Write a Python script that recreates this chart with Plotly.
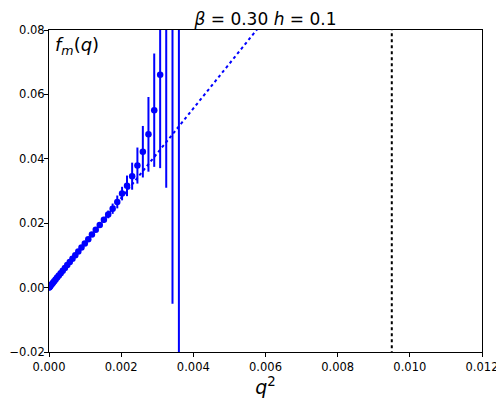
import plotly.graph_objects as go

# measured points (q^2, f_m(q), error)
q2 = [0.00000225, 0.000009, 0.00002025, 0.000036, 0.00005625, 0.000081, 0.00011025,
      0.000144, 0.00018225, 0.000225, 0.00027225, 0.000324, 0.00038025, 0.000441,
      0.00050625, 0.000576, 0.00065025, 0.000729, 0.00081225, 0.0009, 0.00099225,
      0.001089, 0.00119025, 0.001296, 0.00140625, 0.001521, 0.00164025, 0.001764,
      0.00189225, 0.002025, 0.00216225, 0.002304, 0.00245025, 0.002601, 0.00275625,
      0.002916, 0.00308025, 0.003249, 0.00342225, 0.0036]
fm = [0.00003, 0.00012, 0.00028, 0.0005, 0.00078, 0.00112, 0.00152, 0.00199, 0.00252,
      0.00311, 0.00376, 0.00447, 0.00525, 0.00609, 0.00699, 0.00795, 0.00898, 0.01007,
      0.01122, 0.01243, 0.01371, 0.01505, 0.01646, 0.01793, 0.01945, 0.02105, 0.02272,
      0.0245, 0.0266, 0.0292, 0.0316, 0.0346, 0.0379, 0.0422, 0.0476, 0.0551, 0.0661,
      0.085, 0.090, 0.110]
fm_err = [0.00001, 0.00001, 0.00001, 0.00002, 0.00002, 0.00003, 0.00003, 0.00004, 0.00005,
          0.00006, 0.00007, 0.00008, 0.0001, 0.00011, 0.00013, 0.00015, 0.00017, 0.0002,
          0.00023, 0.0003, 0.00035, 0.0004, 0.0005, 0.0006, 0.0007, 0.0009, 0.0012,
          0.0016, 0.002, 0.0021, 0.0032, 0.0042, 0.0056, 0.008, 0.0116, 0.0176, 0.029,
          0.054, 0.095, 0.15]

# linear fit through the small-q points
fit_x = [0.0, 0.0065]
fit_y = [0.0, 0.0904]

# vertical marker
q2_cut = [0.0095, 0.0095]
cut_y = [-0.03, 0.09]

fig = go.Figure()
fig.add_trace(go.Scatter(x=fit_x, y=fit_y, mode='lines',
                         line=dict(color='#0000ff', width=2, dash='dot')))
fig.add_trace(go.Scatter(x=q2_cut, y=cut_y, mode='lines',
                         line=dict(color='black', width=2, dash='dot')))
fig.add_trace(go.Scatter(x=q2, y=fm, mode='markers',
                         marker=dict(color='#0000ff', size=6.5),
                         error_y=dict(type='data', array=fm_err, color='#0000ff',
                                      thickness=2, width=0)))

axis = dict(showline=True, linecolor='black', linewidth=1, mirror=True,
            ticks='outside', ticklen=4, tickcolor='black', showgrid=False,
            zeroline=False, automargin=False,
            tickfont=dict(family='DejaVu Sans', size=11.5, color='black'))

# page body adds 8px, so the figure is 8px smaller and margins shifted
fig.update_layout(
    width=496, height=391,
    margin=dict(l=41, r=22, t=22, b=47),
    plot_bgcolor='white', paper_bgcolor='white',
    showlegend=False,
    title=dict(text='<i>β</i> = 0.30 <i>h</i> = 0.1', xref='paper', x=0.5, xanchor='center',
               yref='paper', y=1, yanchor='bottom', pad=dict(b=5),
               font=dict(family='DejaVu Sans', size=17, color='black')),
    xaxis=dict(axis, range=[0, 0.012], dtick=0.002, tickformat='.3f',
               title=dict(text='<i>q</i><sup>2</sup>', standoff=6,
                          font=dict(family='DejaVu Sans', size=19, color='black'))),
    yaxis=dict(axis, range=[-0.02, 0.08], dtick=0.02, tickformat='.2f',
               ticklabelstandoff=-3),
    annotations=[dict(text='<i>f<sub>m</sub></i>(<i>q</i>)', xref='paper', yref='paper',
                      x=0.01, y=0.995, xanchor='left', yanchor='top', showarrow=False,
                      font=dict(family='DejaVu Sans', size=18, color='black'))],
)

fig.write_html("out.html")
